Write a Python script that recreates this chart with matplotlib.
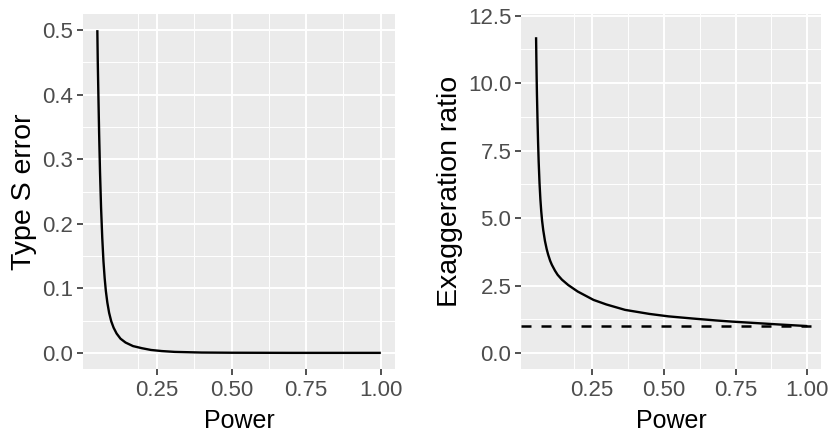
import numpy as np
import matplotlib
matplotlib.use("Agg")
import matplotlib.pyplot as plt

# values
power_s = [0.0505, 0.0520, 0.0540, 0.0565, 0.0595, 0.0630, 0.0670, 0.0710, 0.0750,
           0.0790, 0.0840, 0.0900, 0.0970, 0.1050, 0.1150, 0.1280, 0.1450, 0.1700,
           0.2000, 0.2300, 0.2660, 0.3100, 0.4000, 0.5000, 0.6000, 0.7000, 0.8000,
           0.9000, 1.0000]
type_s = [0.500, 0.450, 0.400, 0.340, 0.280, 0.225, 0.178, 0.142, 0.116,
          0.096, 0.078, 0.062, 0.049, 0.039, 0.030, 0.022, 0.016, 0.0105,
          0.0072, 0.0045, 0.0028, 0.0015, 0.0005, 0.0002, 0.0001, 0.0, 0.0,
          0.0, 0.0]

power_m = [0.055, 0.056, 0.057, 0.058, 0.060, 0.062, 0.064, 0.067, 0.070, 0.073,
           0.076, 0.080, 0.086, 0.092, 0.097, 0.104, 0.110, 0.121, 0.130, 0.145,
           0.167, 0.200, 0.255, 0.300, 0.365, 0.450, 0.516, 0.600, 0.680, 0.738,
           0.800, 0.900, 1.000]
exaggeration = [11.70, 10.90, 10.20, 9.60, 8.64, 7.80, 7.10, 6.30, 5.70, 5.25,
                4.90, 4.55, 4.15, 3.85, 3.65, 3.42, 3.27, 3.05, 2.90, 2.72,
                2.52, 2.28, 1.97, 1.80, 1.60, 1.45, 1.36, 1.28, 1.21, 1.165,
                1.125, 1.06, 1.00]

x_ticks = [0.25, 0.50, 0.75, 1.00]
x_labels = ["0.25", "0.50", "0.75", "1.00"]
s_ticks = [0.0, 0.1, 0.2, 0.3, 0.4, 0.5]
m_ticks = [0.0, 2.5, 5.0, 7.5, 10.0, 12.5]

plt.rcParams["font.family"] = ["Liberation Sans", "DejaVu Sans"]

fig = plt.figure(figsize=(8.3, 4.34), dpi=100)
ax1 = fig.add_axes([83 / 830, 1 - 369 / 434, (395 - 83) / 830, (369 - 14) / 434])
ax2 = fig.add_axes([521 / 830, 1 - 369 / 434, (821 - 521) / 830, (369 - 14) / 434])


def gg_style(ax, yticks, ylabels):
    ax.set_facecolor("#EBEBEB")
    for sp in ax.spines.values():
        sp.set_visible(False)
    ax.set_xticks(x_ticks)
    ax.set_xticklabels(x_labels)
    ax.set_yticks(yticks)
    ax.set_yticklabels(ylabels)
    # minor grid halfway between majors
    xt = [x_ticks[0] - 0.125] + x_ticks
    xminor = [(a + b) / 2 for a, b in zip(xt[:-1], xt[1:])]
    yminor = [(a + b) / 2 for a, b in zip(yticks[:-1], yticks[1:])]
    ax.set_xticks(xminor, minor=True)
    ax.set_yticks(yminor, minor=True)
    ax.grid(which="major", color="white", linewidth=1.4)
    ax.grid(which="minor", color="white", linewidth=0.7)
    ax.set_axisbelow(True)
    ax.tick_params(which="major", length=4.3, width=1.2, color="#333333",
                   labelcolor="#4D4D4D", labelsize=16)
    ax.tick_params(axis="x", which="major", pad=3.5)
    ax.tick_params(axis="y", which="major", pad=2.7)
    ax.tick_params(which="minor", length=0)
    ax.set_xlabel("Power", fontsize=18, color="black", labelpad=6)


ax1.plot(power_s, type_s, color="black", linewidth=1.7, solid_capstyle="butt")
ax1.set_xlim(0.0025, 1.0475)
ax1.set_ylim(-0.025, 0.525)
gg_style(ax1, s_ticks, ["0.0", "0.1", "0.2", "0.3", "0.4", "0.5"])
ax1.set_ylabel("Type S error", fontsize=20.5, color="black", labelpad=3.5)

ax2.plot(power_m, exaggeration, color="black", linewidth=1.7, solid_capstyle="butt")
ax2.axhline(1, color="black", linewidth=1.8, linestyle=(0, (4, 4)))
ax2.set_xlim(0.0025, 1.0475)
ax2.set_ylim(-0.59, 12.56)
gg_style(ax2, m_ticks, ["0.0", "2.5", "5.0", "7.5", "10.0", "12.5"])
ax2.set_ylabel("Exaggeration ratio", fontsize=20.5, color="black", labelpad=3.5)

fig.savefig("out.png", dpi=100, facecolor="white")
